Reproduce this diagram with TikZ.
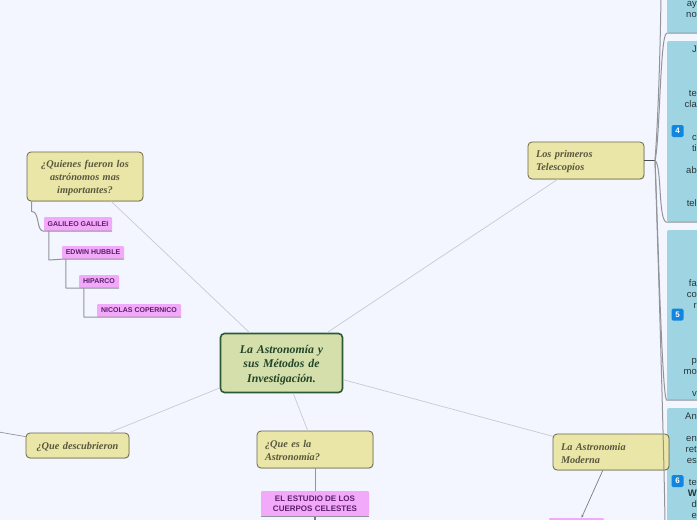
\documentclass[tikz,border=0pt]{standalone}
\usepackage{fontspec}
\setmainfont{Liberation Serif}
\setsansfont{Liberation Sans}
\usetikzlibrary{arrows.meta, shadows}

\definecolor{fondo}{HTML}{F3F6FF}
\definecolor{verdeclaro}{HTML}{D5DFAB}
\definecolor{verdeosc}{HTML}{2C5A35}
\definecolor{amarillo}{HTML}{EAE6A7}
\definecolor{rosa}{HTML}{F3A9F9}
\definecolor{morado}{HTML}{5B1E6A}
\definecolor{celeste}{HTML}{9FD5E2}
\definecolor{azulbadge}{HTML}{1186E0}

\tikzset{
    tema/.style={draw=verdeosc, line width=1.6pt, fill=verdeclaro, rounded corners=4pt, text=verdeosc!75!black,
        minimum width=122pt, minimum height=59pt, inner sep=0pt, text width=110pt, align=center,
        execute at begin node={\rule{0pt}{12.5pt}},
        font=\fontsize{11.8}{14.5}\selectfont\bfseries\itshape},
    rama/.style={draw=black!55!amarillo, line width=.8pt, fill=amarillo, rounded corners=4pt, text=black!62!amarillo,
        drop shadow={opacity=.25, shadow xshift=.6pt, shadow yshift=-.8pt},
        minimum width=116pt, inner sep=0pt, text width=100pt, align=left,
        execute at begin node={\rule{0pt}{9.5pt}},
        font=\fontsize{10.3}{13}\selectfont\bfseries\itshape},
    etiqueta/.style={fill=rosa, rounded corners=1pt, text=morado, inner sep=0pt, align=center,
        font=\sffamily\bfseries\fontsize{7}{8}\selectfont},
    tarjeta/.style={fill=celeste, rounded corners=2pt, minimum width=46pt, inner sep=0pt},
    lineas/.style={anchor=north east, inner sep=0pt, align=right, text=black!75!celeste,
        font=\sffamily\fontsize{9.5}{11}\selectfont},
    insignia/.style={fill=azulbadge, rounded corners=1.5pt, minimum size=12pt, inner sep=0pt, text=white,
        font=\sffamily\bfseries\fontsize{8}{8}\selectfont},
    enlace/.style={draw=black!18!fondo, line width=.7pt},
    rastro/.style={draw=black!40!fondo, line width=1pt},
}

\begin{document}
\begin{tikzpicture}[x=1pt, y=-1pt, >=Stealth]
    \path[use as bounding box, clip] (0,0) rectangle (697,520);
    \fill[fondo] (0,0) rectangle (697,520);

    \node[tarjeta, minimum height=80pt] (tres) at (690,-7) {};
    \node[tarjeta, minimum height=181pt] (cuatro) at (690,131.5) {};
    \node[tarjeta, minimum height=170pt] (cinco) at (690,315) {};
    \node[tarjeta, minimum height=130pt] (seis) at (690,473) {};

    \node[lineas] (textotres) at (697,1) {ay\\no};
    \node[lineas] (textocuatro) at (697,46) {J\\~\\~\\~\\te\\cla\\~\\~\\c\\ti\\~\\ab\\~\\~\\tel};
    \node[lineas] (textocinco) at (697,279) {fa\\co\\r\\~\\~\\~\\~\\p\\mo\\~\\v};
    \node[lineas] (textoseis) at (697,413) {An\\~\\en\\ret\\es\\~\\te\\\textbf{W}\\d\\e};

    \node[insignia] (badgecuatro) at (677.5,131) {4};
    \node[insignia] (badgecinco) at (677.5,314.5) {5};
    \node[insignia] (badgeseis) at (677.5,481) {6};

    \node[tema] (centro) at (281.5,363) {La Astronomía y\\sus Métodos de\\Investigación.};
    \node[rama, align=center, minimum height=49pt] (quienes) at (85,176.5) {¿Quienes fueron los\\astrónomos mas\\importantes?};
    \node[rama, minimum height=37pt] (primeros) at (586,160.5) {Los primeros\\Telescopios};
    \node[rama, minimum height=36pt] (moderna) at (611,452) {La Astronomia\\Moderna};
    \node[rama, minimum height=37pt] (quees) at (315,449.5) {¿Que es la\\Astronomía?};
    \node[rama, minimum width=103pt, text width=95pt, align=center, minimum height=25pt] (descubrieron) at (77.5,445.5) {¿Que descubrieron};

    \node[etiqueta, minimum width=68pt, minimum height=14pt] (galileo) at (78,224) {GALILEO GALILEI};
    \node[etiqueta, minimum width=62pt, minimum height=13pt] (hubble) at (93,252.5) {EDWIN HUBBLE};
    \node[etiqueta, minimum width=40pt, minimum height=13pt] (hiparco) at (99,281.5) {HIPARCO};
    \node[etiqueta, minimum width=84pt, minimum height=13pt] (copernico) at (139,310.5) {NICOLAS COPERNICO};
    \node[etiqueta, minimum width=108pt, minimum height=25pt, font=\sffamily\bfseries\fontsize{8}{10}\selectfont] (estudio) at (315,503.5) {EL ESTUDIO DE LOS\\CUERPOS CELESTES};
    \node[etiqueta, minimum width=55pt, minimum height=22pt] (rosabajo) at (576.5,529) {};

    \coordinate (union) at (655,160.5);
    \coordinate (fuera) at (-10,430.5);
    \coordinate (arriba) at (661,-2);
    \coordinate (abajo) at (665,522);
    \coordinate (bajoestudio) at (315,525);

    \draw[enlace] (centro) -- (quienes);
    \draw[enlace] (centro) -- (primeros);
    \draw[enlace] (centro) -- (moderna);
    \draw[enlace] (centro) -- (quees);
    \draw[enlace] (centro) -- (descubrieron);
    \draw[rastro, line width=.7pt] (descubrieron) -- (fuera);
    \draw[rastro] (quees) -- (estudio);
    \draw[black!50!fondo, line width=1.2pt] (estudio.south) -- (bajoestudio);
    \draw[->, black!50!fondo, line width=.7pt, >={Stealth[length=3pt, width=2.5pt]}] (moderna) -- (rosabajo);

    \draw[black!70, line width=1pt] (primeros.east) -- (union);
    \draw[rastro] (union) .. controls (658,120) and (660,60) .. (arriba);
    \draw[rastro] (union) .. controls (660,140) and (660,33) .. (tres.south west) -- (tres.south east);
    \draw[rastro] (union) .. controls (662,165) and (658,222) .. (cuatro.south west) -- (cuatro.south east);
    \draw[rastro] (union) .. controls (658,230) and (662,400) .. (cinco.south west) -- (cinco.south east);
    \draw[rastro] (union) .. controls (658,250) and (664,450) .. (abajo);

    \draw[rastro] (quienes.south west) ++(5,0) -- ++(0,10) .. controls ++(8.5,0) and ++(-8,0) .. (galileo.south west) -- (galileo.south east);
    \draw[rastro] (galileo.south west) ++(5,0) -- (49,260) -- (hubble.south west) -- (hubble.south east);
    \draw[rastro] (hubble.south west) ++(4,0) -- (66,288) -- (hiparco.south west) -- (hiparco.south east);
    \draw[rastro] (hiparco.south west) ++(5,0) -- (84,317) -- (copernico.south west) -- (copernico.south east);
    \draw[rastro] (estudio.south west) -- (estudio.south east);
\end{tikzpicture}
\end{document}
